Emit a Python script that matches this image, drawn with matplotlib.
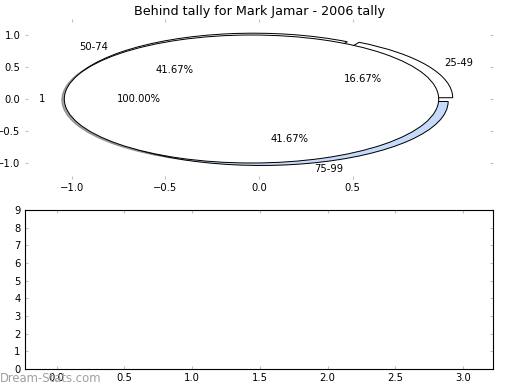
import matplotlib
matplotlib.use("Agg")
import matplotlib.pyplot as plt
from matplotlib.patches import Shadow

TITLE = "Behind tally for Mark Jamar - 2006 tally"

# score ranges of the "behind" tally
RANGE_LABELS = ["25-49", "50-74", "75-99"]
RANGE_COUNTS = [2, 5, 5]
RANGE_COLORS = ["white", "white", "#c6dbfc"]

# single-slice overlay pie
TOTAL_LABELS = ["1"]
TOTAL_COUNTS = [1]

PIE_XTICKS = [-1.0, -0.5, 0.0, 0.5]
PIE_YTICKS = [-1.0, -0.5, 0.0, 0.5, 1.0]
BAR_XTICKS = [0.0, 0.5, 1.0, 1.5, 2.0, 2.5, 3.0]
BAR_YTICKS = list(range(10))

W, H = 520, 390
TICK_COLOR = "#c0c0c0"


def style_ticks(ax):
    ax.tick_params(direction="in", length=3, width=1, color=TICK_COLOR,
                   top=True, right=True, labelsize=9, pad=4)


fig = plt.figure(figsize=(W / 80, H / 80), dpi=80)
fig.patch.set_facecolor("white")

# --- top: pie with axes ticks still visible ---
ax1 = fig.add_axes([25 / W, 1 - 179 / H, 468 / W, 160 / H])
wedge_kw = dict(edgecolor="black", linewidth=0.9)
ax1.pie(RANGE_COUNTS, labels=RANGE_LABELS, colors=RANGE_COLORS,
        explode=[0.04] * len(RANGE_COUNTS), autopct="%1.2f%%",
        startangle=0, wedgeprops=wedge_kw, textprops=dict(fontsize=9))
ax1.pie(TOTAL_COUNTS, labels=TOTAL_LABELS, colors=["white"],
        explode=[0.04], autopct="%1.2f%%",
        shadow=dict(ox=-0.012, oy=-0.012, label="_nolegend_"),
        wedgeprops=wedge_kw, textprops=dict(fontsize=9))
# shadow sits underneath the first pie, only peeks out on the left
for p in ax1.patches:
    if isinstance(p, Shadow):
        p.set_zorder(0.5)
ax1.set_aspect("auto")
ax1.set_frame_on(False)
ax1.set_xlim(-1.25, 1.25)
ax1.set_ylim(-1.25, 1.25)
ax1.set_xticks(PIE_XTICKS)
ax1.set_yticks(PIE_YTICKS)
style_ticks(ax1)
ax1.set_title(TITLE, fontsize=11.5, pad=4)

# --- bottom: empty axes ---
ax2 = fig.add_axes([25 / W, 1 - 369 / H, 468 / W, 159 / H])
ax2.set_xlim(-0.234, 3.222)
ax2.set_ylim(0, 9)
ax2.set_xticks(BAR_XTICKS)
ax2.set_yticks(BAR_YTICKS)
for sp in ax2.spines.values():
    sp.set_color("black")
    sp.set_linewidth(1)
style_ticks(ax2)

fig.text(0.0, 1 - 379 / H, "Dream-Stats.com", color="#a0a0a0",
         fontsize=10.5, ha="left", va="center")

fig.savefig("out.png", dpi=80, facecolor="white")
